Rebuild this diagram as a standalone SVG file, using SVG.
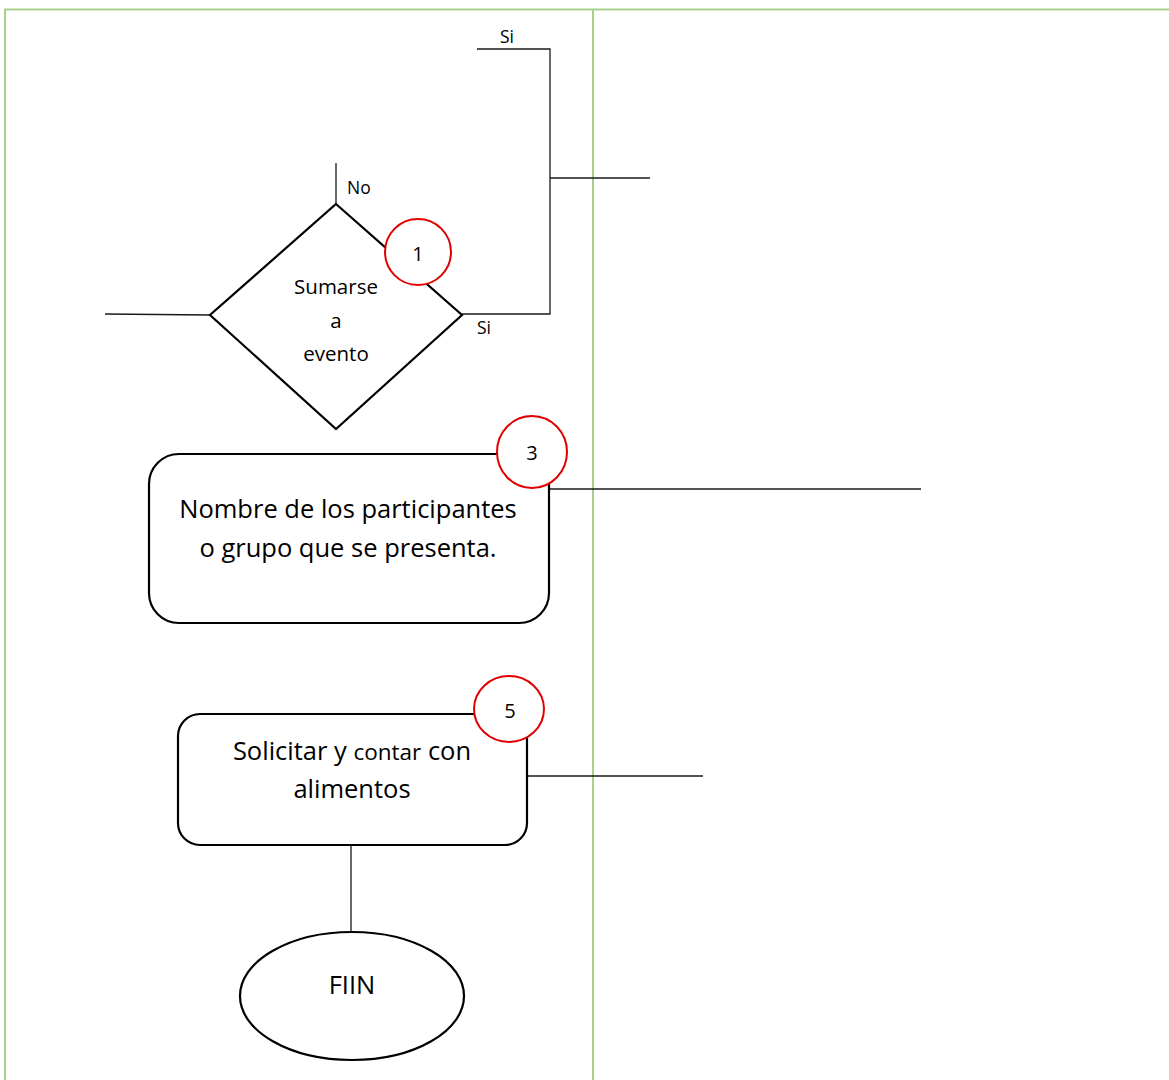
<svg xmlns="http://www.w3.org/2000/svg" width="1169" height="1080" viewBox="0 0 1169 1080">
  <style>
    .frame { fill: none; stroke: #A8D08D; stroke-width: 2; }
    .shape { fill: #fff; stroke: #000; stroke-width: 2.2; }
    .conn { fill: none; stroke: #1a1a1a; stroke-width: 1.3; }
    .badge { fill: #fff; stroke: #E00000; stroke-width: 2; }
    text { font-family: "Open Sans", "Noto Sans", "Liberation Sans", sans-serif; fill: #000; }
    .lbl { font-size: 17.5px; }
    .num { font-size: 20px; }
    .mid { text-anchor: middle; }
    .big { font-size: 25.5px; }
    .dia { font-size: 20.5px; }
  </style>
  <rect width="1169" height="1080" fill="#fff"/>

  <!-- table frame -->
  <g id="frame">
    <line class="frame" x1="4" y1="9.5" x2="1169" y2="9.5"/>
    <line class="frame" x1="5" y1="9" x2="5" y2="1080"/>
    <line class="frame" x1="593" y1="9" x2="593" y2="1080"/>
  </g>

  <!-- connectors -->
  <g id="connectors">
    <polyline class="conn" points="477,49 550,49 550,314 462,314"/>
    <line class="conn" x1="550" y1="178" x2="650" y2="178"/>
    <line class="conn" x1="336" y1="163" x2="336" y2="204"/>
    <line class="conn" x1="105" y1="314" x2="210" y2="315"/>
    <line class="conn" x1="549" y1="489" x2="921" y2="489"/>
    <line class="conn" x1="527" y1="776" x2="703" y2="776"/>
    <line class="conn" x1="351" y1="845" x2="351" y2="932"/>
    <text class="lbl" x="500" y="43">Si</text>
    <text class="lbl" x="347" y="194">No</text>
    <text class="lbl" x="477" y="334">Si</text>
  </g>

  <g id="decision">
    <polygon class="shape" points="336,204 462,315 336,429 210,315"/>
    <text class="dia mid" x="336" y="294">Sumarse</text>
    <text class="dia mid" x="336" y="328">a</text>
    <text class="dia mid" x="336" y="361">evento</text>
  </g>
  <g id="badge-1">
    <ellipse class="badge" cx="418" cy="252" rx="33" ry="33"/>
    <text class="num mid" x="418" y="261">1</text>
  </g>

  <g id="participants">
    <rect class="shape" x="149" y="454" width="400" height="169" rx="30"/>
    <text class="big mid" x="348" y="518">Nombre de los participantes</text>
    <text class="big mid" x="348" y="557">o grupo que se presenta.</text>
  </g>
  <g id="badge-3">
    <ellipse class="badge" cx="532" cy="452" rx="35" ry="36"/>
    <text class="num mid" x="532" y="460">3</text>
  </g>

  <g id="food">
    <rect class="shape" x="178" y="714" width="349" height="131" rx="22"/>
    <text class="big mid" x="352" y="760">Solicitar y <tspan font-size="22.5px">contar</tspan> con</text>
    <text class="big mid" x="352" y="798">alimentos</text>
  </g>
  <g id="badge-5">
    <ellipse class="badge" cx="509" cy="709" rx="35" ry="33"/>
    <text class="num mid" x="510" y="718">5</text>
  </g>

  <g id="end">
    <ellipse class="shape" cx="352" cy="996" rx="112" ry="64"/>
    <text class="big mid" x="352" y="994">FIIN</text>
  </g>
</svg>
